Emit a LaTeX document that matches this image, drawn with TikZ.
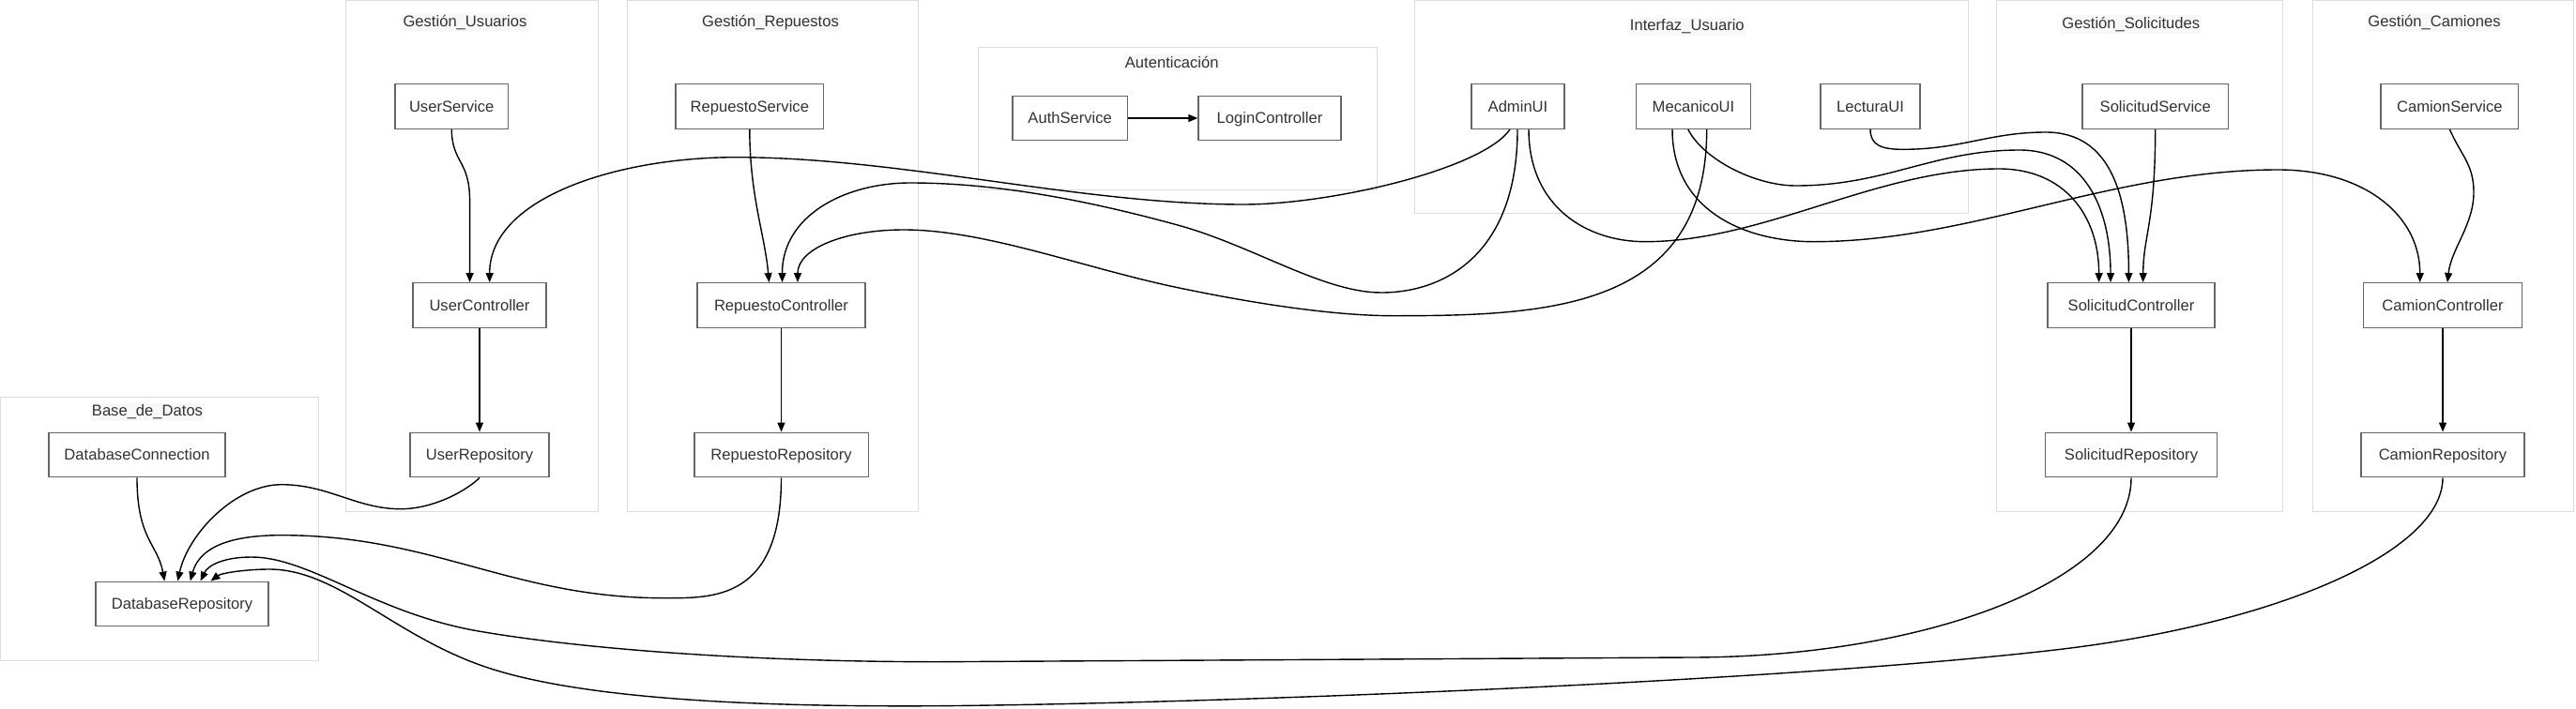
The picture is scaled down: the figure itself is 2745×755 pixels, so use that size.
\documentclass[tikz,border=0pt]{standalone}
\usepackage{fontspec}
\setmainfont{Liberation Sans}
\usetikzlibrary{arrows.meta,calc}
\definecolor{nodeline}{HTML}{666666}
\definecolor{txt}{HTML}{333333}
\definecolor{clusline}{HTML}{DDDDDD}
\definecolor{labbg}{HTML}{F8F8F8}
\begin{document}
\begin{tikzpicture}[x=1pt,y=1pt,
  every node/.style={font=\fontsize{16.6}{20}\selectfont, text=txt},
  nbox/.style={draw=nodeline, line width=1.4pt, fill=white, rectangle, minimum height=47.5pt, minimum width=#1, inner sep=0pt, text height=11.9pt, text depth=0pt},
  clus/.style={draw=clusline, line width=1pt, rectangle, inner sep=0pt},
  clab/.style={fill=labbg, inner xsep=1.5pt, inner ysep=2pt, anchor=base},
  conn/.style={draw=black, line width=1.4pt, -{Triangle[length=10pt,width=8pt]}}]
\useasboundingbox (0,0) rectangle (2745,-755);

% clusters
\node[clus, minimum width=338.5pt, minimum height=281pt] (kBD) at (169.75,-563.5) {};
\node[clus, minimum width=268.4pt, minimum height=544.3pt] (kGU) at (502.8,-272.85) {};
\node[clus, minimum width=310pt, minimum height=544.3pt] (kGR) at (823,-272.85) {};
\node[clus, minimum width=425.5pt, minimum height=152pt] (kAU) at (1254.75,-126.3) {};
\node[clus, minimum width=589.3pt, minimum height=226.6pt] (kIU) at (1802.35,-114) {};
\node[clus, minimum width=305.3pt, minimum height=544.6pt] (kGS) at (2280.15,-273) {};
\node[clus, minimum width=277.4pt, minimum height=544.6pt] (kGC) at (2603.3,-273) {};

% cluster labels
\node[clab] (lBD) at (157,-443.7) {Base\_de\_Datos};
\node[clab] (lGU) at (495.5,-28.7) {Gestión\_Usuarios};
\node[clab] (lGR) at (821,-28.7) {Gestión\_Repuestos};
\node[clab] (lAU) at (1248.7,-72.7) {Autenticación};
\node[clab] (lIU) at (1797.8,-32.7) {Interfaz\_Usuario};
\node[clab] (lGS) at (2270.8,-30.3) {Gestión\_Solicitudes};
\node[clab] (lGC) at (2594,-28.7) {Gestión\_Camiones};

% nodes
\node[nbox=120.5pt] (US) at (481.2,-113.5) {UserService};
\node[nbox=157.6pt] (RS) at (798.8,-113.5) {RepuestoService};
\node[nbox=122.5pt] (AS) at (1140.2,-126) {AuthService};
\node[nbox=152pt] (LC) at (1353,-126) {LoginController};
\node[nbox=99pt] (AUI) at (1617.5,-113.5) {AdminUI};
\node[nbox=122pt] (MUI) at (1804.5,-113.5) {MecanicoUI};
\node[nbox=106pt] (LUI) at (1993,-113.5) {LecturaUI};
\node[nbox=155.4pt] (SS) at (2296.7,-113.5) {SolicitudService};
\node[nbox=146.7pt] (CS) at (2610.4,-113.5) {CamionService};
\node[nbox=142pt] (UC) at (511,-325.5) {UserController};
\node[nbox=179pt] (RC) at (832.5,-325.5) {RepuestoController};
\node[nbox=177.7pt] (SC) at (2271,-325.5) {SolicitudController};
\node[nbox=168.7pt] (CC) at (2603,-325.5) {CamionController};
\node[nbox=188pt] (DC) at (146,-485) {DatabaseConnection};
\node[nbox=148pt] (UR) at (511,-485) {UserRepository};
\node[nbox=185.4pt] (RR) at (832.5,-485) {RepuestoRepository};
\node[nbox=182.5pt] (SR) at (2271,-485) {SolicitudRepository};
\node[nbox=174.3pt] (CR) at (2603,-485) {CamionRepository};
\node[nbox=184pt] (DR) at (194,-644) {DatabaseRepository};

% straight connectors
\draw[conn] (AS.east) -- (LC.west);
\draw[conn] (UC.south) -- (UR.north);
\draw[conn] (RC.south) -- (RR.north);
\draw[conn] (SC.south) -- (SR.north);
\draw[conn] (CC.south) -- (CR.north);

% service -> controller
\draw[conn] (US.south) .. controls (482,-175) and (500.6,-170) .. (500.6,-215) -- ([xshift=-10.4pt]UC.north);
\draw[conn] (RS.south) .. controls (799,-210) and (815,-250) .. ([xshift=-13pt]RC.north);
\draw[conn] (SS.south) .. controls (2296.5,-240) and (2284,-250) .. ([xshift=12.6pt]SC.north);
\draw[conn] (CS.south) .. controls (2622,-165) and (2636,-175) .. (2636,-205)
  .. controls (2636,-240) and (2612,-265) .. ([xshift=5pt]CC.north);

% repositories -> DatabaseRepository
\draw[conn] (DC.south) .. controls (146,-575) and (168,-580) .. ([xshift=-18.6pt]DR.north);
\draw[conn] (UR.south) .. controls (495,-525) and (460,-542.7) .. (427,-542.7)
  .. controls (380,-542.7) and (350,-516.7) .. (300,-516.7)
  .. controls (250,-516.7) and (200,-570) .. ([xshift=-4.6pt]DR.north);
\draw[conn] (RR.south) .. controls (832.5,-640) and (760,-637.7) .. (708,-637.7)
  .. controls (546,-637.7) and (462,-570.7) .. (300,-570.7)
  .. controls (257,-570.7) and (214,-578.5) .. ([xshift=8.8pt]DR.north);
\draw[conn] (SR.south) .. controls (2271,-620) and (2050,-701) .. (1800,-701)
  -- (1000,-705.7)
  .. controls (800,-705.7) and (620,-692) .. (510,-673)
  .. controls (400,-654) and (330,-594) .. (268,-594)
  .. controls (240,-594) and (222,-602) .. ([xshift=19.6pt]DR.north);
\draw[conn] (CR.south) .. controls (2603,-590) and (2420,-666.4) .. (2190,-693)
  .. controls (1900,-726.6) and (1300,-750) .. (1000,-752.7)
  .. controls (800,-754) and (620,-745) .. (520,-712)
  .. controls (420,-679) and (360,-607) .. (287,-607)
  .. controls (262,-607) and (236,-611) .. ([xshift=30.5pt]DR.north);

% UI -> controllers
\draw[conn] ([xshift=-8.5pt]AUI.south) .. controls (1580,-180) and (1420,-218) .. (1325,-218)
  .. controls (1150,-218) and (960,-167.7) .. (784,-167.7)
  .. controls (660,-167.7) and (521.7,-210) .. ([xshift=10.7pt]UC.north);
\draw[conn] ([xshift=-0.5pt]AUI.south) .. controls (1617,-270) and (1540,-312) .. (1472,-312)
  .. controls (1410,-312) and (1335,-261.9) .. (1255,-240)
  .. controls (1155,-212.6) and (1060,-195) .. (970,-195)
  .. controls (900,-195) and (833.5,-230) .. ([xshift=1pt]RC.north);
\draw[conn] ([xshift=14.2pt]MUI.south) .. controls (1818.7,-330) and (1650,-336.7) .. (1485,-336.7)
  .. controls (1420,-336.7) and (1335,-323.4) .. (1255,-306.7)
  .. controls (1155,-285.8) and (1050,-245) .. (963,-245)
  .. controls (900,-245) and (850,-265) .. ([xshift=17.5pt]RC.north);
\draw[conn] ([xshift=11.5pt]AUI.south) .. controls (1629,-220) and (1690,-257.7) .. (1753,-257.7)
  .. controls (1880,-257.7) and (2000,-180) .. (2130,-180)
  .. controls (2200,-180) and (2236.6,-230) .. ([xshift=-34.4pt]SC.north);
\draw[conn] ([xshift=-5.7pt]MUI.south) .. controls (1815,-170) and (1870,-198) .. (1913.6,-198)
  .. controls (2010,-198) and (2060,-160) .. (2152,-160)
  .. controls (2220,-160) and (2249,-220) .. ([xshift=-22pt]SC.north);
\draw[conn] (LUI.south) .. controls (1993,-155) and (2005,-159.3) .. (2028,-159.3)
  .. controls (2090,-159.3) and (2120,-141) .. (2180,-141)
  .. controls (2250,-141) and (2268.4,-210) .. ([xshift=-2.6pt]SC.north);
\draw[conn] ([xshift=-22.5pt]MUI.south) .. controls (1782,-225) and (1860,-257.7) .. (1932.7,-257.7)
  .. controls (2100,-257.7) and (2250,-181) .. (2427.6,-181)
  .. controls (2520,-181) and (2578.7,-230) .. ([xshift=-24.3pt]CC.north);
\end{tikzpicture}
\end{document}
